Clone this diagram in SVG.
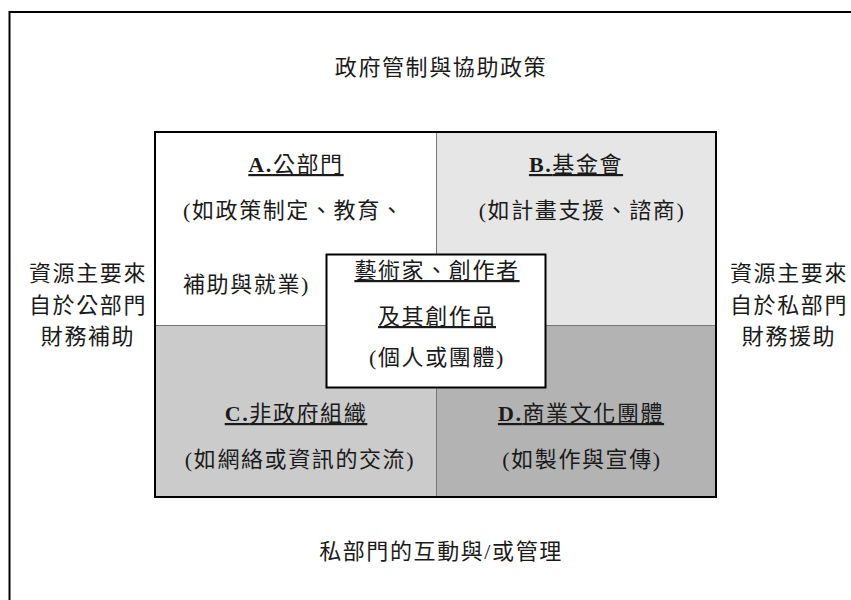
<svg xmlns="http://www.w3.org/2000/svg" width="851" height="600" viewBox="0 0 851 600">
<style>
text{font-family:"Liberation Serif","Noto Sans CJK TC",serif;font-size:22px;fill:#1a1a1a;letter-spacing:1.6px}
.c{text-anchor:middle}
.u{text-decoration:underline}
.b{font-weight:bold}
.grid{stroke:#777;stroke-width:1;fill:none}
</style>
<rect width="851" height="600" fill="#fff"/>
<path d="M9.5 600 V12 H851" fill="none" stroke="#000" stroke-width="2"/>
<text class="c" x="441" y="75">政府管制與協助政策</text>
<text class="c" x="441" y="559">私部門的互動與/或管理</text>
<g id="left-note">
<text class="c" x="88" y="281">資源主要來</text>
<text class="c" x="88" y="313">自於公部門</text>
<text class="c" x="88" y="344">財務補助</text>
</g>
<g id="right-note">
<text class="c" x="789" y="281">資源主要來</text>
<text class="c" x="789" y="313">自於私部門</text>
<text class="c" x="789" y="344">財務援助</text>
</g>
<g id="quadA">
<rect x="155" y="132" width="281" height="193" fill="#fff"/>
<text class="c u" x="296" y="172"><tspan class="b">A.</tspan>公部門</text>
<text x="183" y="218">(如政策制定、教育、</text>
<text x="183" y="292">補助與就業)</text>
</g>
<g id="quadB">
<rect x="436" y="132" width="280" height="193" fill="#e6e6e6"/>
<text class="c u" x="576" y="172"><tspan class="b">B.</tspan>基金會</text>
<text class="c" x="582" y="218">(如計畫支援、諮商)</text>
</g>
<g id="quadC">
<rect x="155" y="325" width="281" height="172" fill="#cbcbcb"/>
<text class="c u" x="296" y="421"><tspan class="b">C.</tspan>非政府組織</text>
<text class="c" x="300" y="467">(如網絡或資訊的交流)</text>
</g>
<g id="quadD">
<rect x="436" y="325" width="280" height="172" fill="#b3b3b3"/>
<text class="c u" x="581" y="421"><tspan class="b">D.</tspan>商業文化團體</text>
<text class="c" x="582" y="467">(如製作與宣傳)</text>
</g>
<g id="connectors">
<line class="grid" x1="436.5" y1="132" x2="436.5" y2="497"/>
<line class="grid" x1="155" y1="325.5" x2="716" y2="325.5"/>
</g>
<rect x="155" y="132" width="561" height="365" fill="none" stroke="#000" stroke-width="2"/>
<g id="center">
<rect x="326.5" y="254.5" width="219" height="133" fill="#fff" stroke="#000" stroke-width="2"/>
<text class="c u" x="437" y="278">藝術家、創作者</text>
<text class="c u" x="437" y="324">及其創作品</text>
<text class="c" x="437" y="365">(個人或團體)</text>
</g>
</svg>
